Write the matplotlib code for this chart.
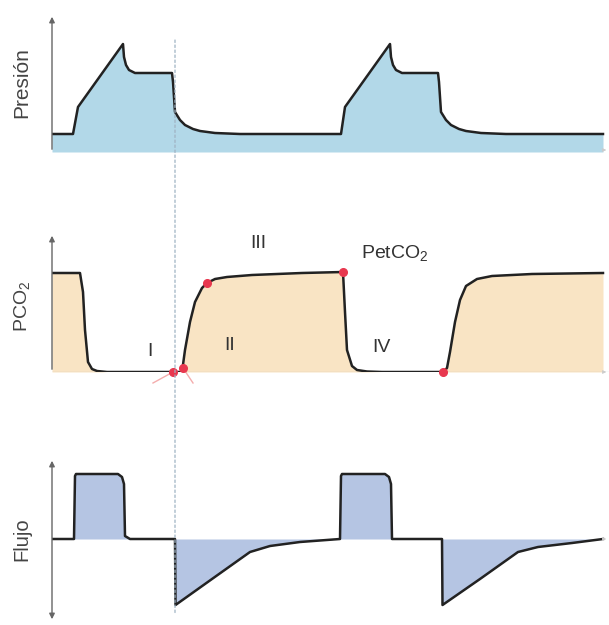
import numpy as np
import matplotlib
matplotlib.use("Agg")
import matplotlib.pyplot as plt
from matplotlib.patches import ConnectionPatch

plt.rcParams['font.family'] = ['Liberation Sans', 'DejaVu Sans']
plt.rcParams['mathtext.default'] = 'regular'

# Presion (tiempo, valor)
t_pres = [0, 21, 26, 71, 72, 74, 77, 83, 120, 121, 123, 128, 133, 141, 148, 163, 188,
          289, 293, 338, 339, 341, 344, 350, 386, 387, 389, 394, 399, 407, 414, 429, 454, 551]
pres = [18, 18, 45, 108, 95, 87, 82, 79, 79, 70, 40, 32, 27, 23, 21, 19, 18,
        18, 45, 108, 95, 87, 82, 79, 79, 70, 40, 32, 27, 23, 21, 19, 18, 18]

# PCO2
t_co2 = [0, 28, 31, 33, 36, 40, 45, 55, 130, 133, 138, 143, 150, 155, 163, 175, 200, 250, 291,
         293, 295, 300, 305, 315, 330, 391, 395, 398, 403, 408, 414, 425, 440, 480, 551]
co2 = [99, 99, 80, 42, 10, 3, 1, 0, 0, 22, 50, 70, 84, 89, 93, 95, 97, 99, 100,
       60, 22, 6, 2, 0.5, 0, 0, 4, 20, 50, 72, 86, 93, 96, 98, 99]
# puntos rojos (inicio fase II, inicio fase III, PetCO2, fin fase IV)
t_pts = [121, 131, 155, 291, 391]
co2_pts = [0, 4, 89, 100, 0]

# Flujo
t_flujo = [0, 22, 23, 24, 66, 70, 72, 73, 78, 123, 123.5, 160, 198, 218, 248, 288,
           289, 290, 333, 337, 339, 340, 390, 390.5, 428, 466, 486, 520, 551]
flujo = [0, 0, 63, 65, 65, 62, 55, 3, 0, 0, -66, -40, -13, -7, -3, 0,
         63, 65, 65, 62, 55, 0, 0, -66, -40, -13, -8, -4, 0]

t_corte = 123

W, H = 609, 625
fig = plt.figure(figsize=(W / 100, H / 100), dpi=100)

def make_ax(top_px, bottom_px):
    ax = fig.add_axes([52 / W, 1 - bottom_px / H, 557 / W, (bottom_px - top_px) / H])
    ax.set_xlim(0, 557)
    ax.axis('off')
    return ax

linea = '#222222'
gris = '#666666'

# ---- Presion
ax1 = make_ax(14, 152)
ax1.set_ylim(0, 138)
ax1.fill_between(t_pres, pres, 0, color='#b2d8e8', lw=0)
ax1.plot(t_pres, pres, color=linea, lw=1.8)
ax1.annotate('', xy=(0, 1), xytext=(0, 0), xycoords='axes fraction',
             arrowprops=dict(arrowstyle='-|>', color=gris, lw=1, mutation_scale=8))
ax1.annotate('', xy=(557, 2), xytext=(549, 2),
             arrowprops=dict(arrowstyle='-|>', color='#cccccc', lw=0.6, mutation_scale=5))
ax1.text(-0.054, 0.5, 'Presión', transform=ax1.transAxes, rotation=90,
         ha='center', va='center', fontsize=15, color='#444444')

# ---- PCO2
ax2 = make_ax(233, 372)
ax2.set_ylim(0, 139)
ax2.fill_between(t_co2, co2, 0, color='#f9e4c4', lw=0)
ax2.axhline(0, color='#999999', lw=0.8)
ax2.plot(t_co2, co2, color=linea, lw=1.8)
ax2.plot([101, 121], [-11, 0], color='#f08a8a', lw=1, alpha=0.7, clip_on=False)
ax2.plot([131, 141], [4, -11], color='#f08a8a', lw=1, alpha=0.7, clip_on=False)
ax2.plot(t_pts, co2_pts, 'o', color='#e8384f', ms=5.5, clip_on=False, zorder=5)
ax2.annotate('', xy=(0, 1), xytext=(0, 0), xycoords='axes fraction',
             arrowprops=dict(arrowstyle='-|>', color=gris, lw=1, mutation_scale=8))
ax2.annotate('', xy=(557, 0), xytext=(549, 0),
             arrowprops=dict(arrowstyle='-|>', color='#cccccc', lw=0.6, mutation_scale=5))
ax2.text(-0.054, 0.47, 'PCO$_2$', transform=ax2.transAxes, rotation=90,
         ha='center', va='center', fontsize=14, color='#444444')
fs = 14
ax2.text(98, 20, 'I', ha='center', va='center', fontsize=fs, color='#333333')
ax2.text(178, 27, 'II', ha='center', va='center', fontsize=fs, color='#333333')
ax2.text(206, 129, 'III', ha='center', va='center', fontsize=fs, color='#333333')
ax2.text(343, 119, 'PetCO$_2$', ha='center', va='center', fontsize=fs, color='#333333')
ax2.text(329, 25, 'IV', ha='center', va='center', fontsize=fs, color='#333333')

# ---- Flujo
ax3 = make_ax(458, 622)
ax3.set_ylim(-83, 81)
ax3.fill_between(t_flujo, flujo, 0, color='#b5c5e3', lw=0)
ax3.plot(t_flujo, flujo, color=linea, lw=1.8)
ax3.annotate('', xy=(0, 1), xytext=(0, 0), xycoords='axes fraction',
             arrowprops=dict(arrowstyle='<|-|>', color=gris, lw=1, mutation_scale=8))
ax3.annotate('', xy=(557, 0), xytext=(549, 0),
             arrowprops=dict(arrowstyle='-|>', color='#cccccc', lw=0.6, mutation_scale=5))
ax3.text(-0.054, 0.506, 'Flujo', transform=ax3.transAxes, rotation=90,
         ha='center', va='center', fontsize=14.5, color='#444444')

# linea vertical punteada que cruza los tres paneles
con = ConnectionPatch(xyA=(t_corte, 112), coordsA=ax1.transData,
                      xyB=(t_corte, -74), coordsB=ax3.transData,
                      color='#9fb3c3', lw=0.9, linestyle=(0, (2, 2)))
fig.add_artist(con)

fig.savefig('out.png', dpi=100)
